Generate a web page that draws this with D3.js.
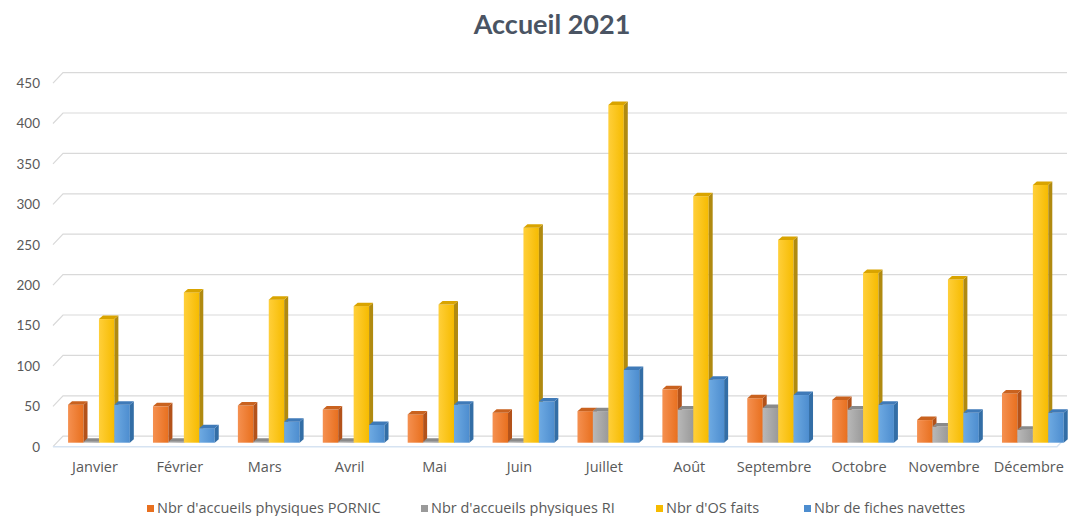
<!DOCTYPE html>
<html>
<head>
<meta charset="utf-8">
<script src="https://cdn.jsdelivr.net/npm/d3@7"></script>
<style>
  html, body { margin: 0; padding: 0; background: #ffffff; }
  svg { display: block; }
</style>
</head>
<body>
<svg id="chart" width="1072" height="516"></svg>
<script>
// ---- data ----
const months = ["Janvier", "Février", "Mars", "Avril", "Mai", "Juin", "Juillet", "Août", "Septembre", "Octobre", "Novembre", "Décembre"];
const seriesNames = ["Nbr d'accueils physiques PORNIC", "Nbr d'accueils physiques RI", "Nbr d'OS faits", "Nbr de fiches navettes"];
const pornic   = [47, 45, 46, 41, 35, 37, 39, 66, 55, 53, 28, 61];
const ri       = [0, 0, 0, 0, 0, 0, 39, 41, 43, 41, 20, 16];
const osFaits  = [153, 186, 177, 169, 171, 266, 418, 305, 251, 210, 202, 319];
const navettes = [47, 18, 26, 22, 47, 51, 90, 78, 59, 47, 37, 37];
const yTicks = [0, 50, 100, 150, 200, 250, 300, 350, 400, 450];
const title = "Accueil 2021";

const seriesValues = [pornic, ri, osFaits, navettes];
const palette = [
  { front0: "#f59050", front1: "#e8701f", side: "#b3521a", top: "#c9621f" },
  { front0: "#b8b8b8", front1: "#9a9a9a", side: "#777777", top: "#8a8a8a" },
  { front0: "#ffcf3a", front1: "#f6bb00", side: "#b08a10", top: "#d9a400" },
  { front0: "#6eaae2", front1: "#4d8dcf", side: "#336ea6", top: "#3f7ab8" }
];

const svg = d3.select("#chart");
const font = "Lato, 'Open Sans', sans-serif";
const font2 = "'Open Sans', Lato, sans-serif";

// ---- geometry (3D look) ----
const wallDX = 10, wallDY = -10.5;
const barDX = 4, barDY = -4;
const depthDX = 4, depthDY = -3.5;

const x0 = d3.scaleBand().domain(months).range([52.5, 1071.3]).paddingInner(0).paddingOuter(0);
const band = x0.bandwidth();
const bw = band / 5.5;
const x1 = d3.scaleBand().domain(seriesNames)
  .range([(band - 4 * bw) / 2, (band + 4 * bw) / 2]);
const y = d3.scaleLinear().domain([0, 450]).range([446.7, 83.1]);

const defs = svg.append("defs");
palette.forEach((p, i) => {
  const g = defs.append("linearGradient").attr("id", "gf" + i)
    .attr("x1", "0%").attr("x2", "100%").attr("y1", "0%").attr("y2", "0%");
  g.append("stop").attr("offset", "0%").attr("stop-color", p.front0);
  g.append("stop").attr("offset", "100%").attr("stop-color", p.front1);
});

// ---- title ----
svg.append("text")
  .attr("x", 552).attr("y", 34)
  .attr("text-anchor", "middle")
  .attr("font-family", font).attr("font-weight", "bold")
  .attr("font-size", 27).attr("fill", "#4a5463")
  .text(title);

// ---- gridlines ----
const gridG = svg.append("g");
const rightEnd = 1067;
gridG.selectAll("path.grid").data(yTicks).join("path")
  .attr("class", "grid")
  .attr("fill", "none")
  .attr("stroke", "#d9d9d9")
  .attr("stroke-width", 1.2)
  .attr("d", d => {
    const yf = y(d);
    return `M53,${yf} L${53 + wallDX},${yf + wallDY} L${rightEnd},${yf + wallDY}`;
  });
gridG.append("path")
  .attr("fill", "none").attr("stroke", "#d6e3f2").attr("stroke-width", 1.4)
  .attr("d", `M53,${y(0)} L${rightEnd - wallDX},${y(0)} L${rightEnd},${y(0) + wallDY}`);

// ---- y axis labels ----
const yAxis = d3.axisLeft(y).tickValues(yTicks).tickSize(0).tickPadding(0);
const yG = svg.append("g").attr("transform", "translate(40,0)").call(yAxis);
yG.select(".domain").remove();
yG.selectAll("text").attr("font-family", font).attr("font-size", 13.5).attr("fill", "#595959");

// ---- x axis labels ----
const xAxis = d3.axisBottom(x0).tickSize(0).tickPadding(0);
const xG = svg.append("g").attr("transform", "translate(0,462)").call(xAxis);
xG.select(".domain").remove();
xG.selectAll("text").attr("font-family", font2).attr("font-size", 14.5).attr("fill", "#595959");

// ---- bars ----
const barsG = svg.append("g");
months.forEach((m, mi) => {
  const g = barsG.append("g");
  seriesNames.forEach((s, si) => {
    const v = seriesValues[si][mi];
    const xl = x0(m) + x1(s) + barDX;
    const xr = xl + bw;
    const yb = y(0) + barDY;
    let yt = y(v) + barDY;
    if (yb - yt < 1) yt = yb - 1;
    const p = palette[si];
    g.append("rect")
      .attr("x", xl).attr("y", yt)
      .attr("width", bw).attr("height", yb - yt)
      .attr("fill", `url(#gf${si})`);
    g.append("path")
      .attr("fill", p.side)
      .attr("d", `M${xr},${yt} L${xr + depthDX},${yt + depthDY} L${xr + depthDX},${yb + depthDY} L${xr},${yb} Z`);
    g.append("path")
      .attr("fill", p.top)
      .attr("d", `M${xl},${yt} L${xl + depthDX},${yt + depthDY} L${xr + depthDX},${yt + depthDY} L${xr},${yt} Z`);
  });
});

// ---- legend ----
const legendX = [147, 421, 656, 804];
const legG = svg.append("g");
seriesNames.forEach((s, i) => {
  legG.append("rect")
    .attr("x", legendX[i]).attr("y", 505)
    .attr("width", 7).attr("height", 7)
    .attr("fill", palette[i].front1);
  legG.append("text")
    .attr("x", legendX[i] + 10).attr("y", 513)
    .attr("font-family", font2).attr("font-size", 14.5).attr("fill", "#595959")
    .text(s);
});
</script>
</body>
</html>
